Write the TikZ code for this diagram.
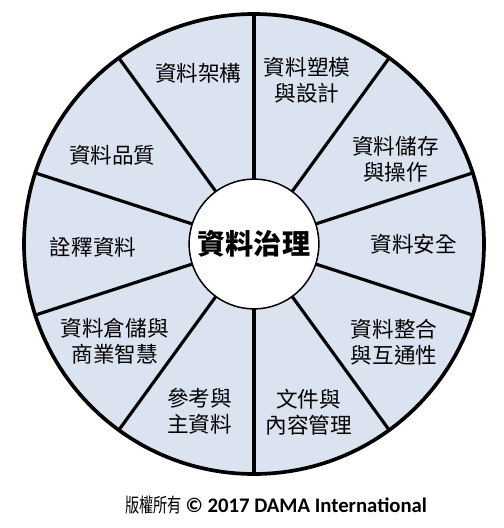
\documentclass[tikz,border=0pt]{standalone}
\usepackage{fontspec}
\setmainfont{Noto Sans CJK TC}
\newfontfamily\latinfont{Carlito}
\newfontfamily\narrowcjk[FakeStretch=0.72]{Noto Sans CJK TC}
\definecolor{wheelblue}{RGB}{219,227,240}

\begin{document}
\begin{tikzpicture}[x=0.02cm,y=0.02cm,
  area/.style={font=\fontsize{12.3}{15}\selectfont,align=center,inner sep=0pt},
  spoke/.style={line width=1.8pt}]
\useasboundingbox (-254,-284) rectangle (250,244);
\fill[wheelblue] (0,0) circle (230);
\foreach \a in {18,54,...,342}
  \draw[spoke] (\a:60) -- (\a:230);
\draw[line width=2.1pt] (0,0) circle (230);
\node (gov) [circle,draw,line width=0.85pt,fill=white,minimum size=2.56cm,
  font=\fontsize{16}{18}\selectfont\bfseries] at (0,0) {資料治理};

\node (arch) [area] at (108:180) {資料架構};
\node (model) [area] at (72:172) {資料塑模\\與設計};
\node (store) [area] at (31:165) {資料儲存\\與操作};
\node (sec) [area] at (0:160) {資料安全};
\node (integ) [area] at (-35:171) {資料整合\\與互通性};
\node (doc) [area] at (-72:177) {文件與\\內容管理};
\node (ref) [area] at (-108:176) {參考與\\主資料};
\node (dwbi) [area] at (-145:170) {資料倉儲與\\商業智慧};
\node (meta) [area] at (181:161) {詮釋資料};
\node (qual) [area] at (148:167) {資料品質};

\node (copy) [inner sep=0pt] at (22,-261)
  {{\narrowcjk\fontsize{11.2}{13}\selectfont 版權所有} {\latinfont\bfseries\fontsize{11.8}{13}\selectfont © 2017 DAMA International}};
\end{tikzpicture}
\end{document}
